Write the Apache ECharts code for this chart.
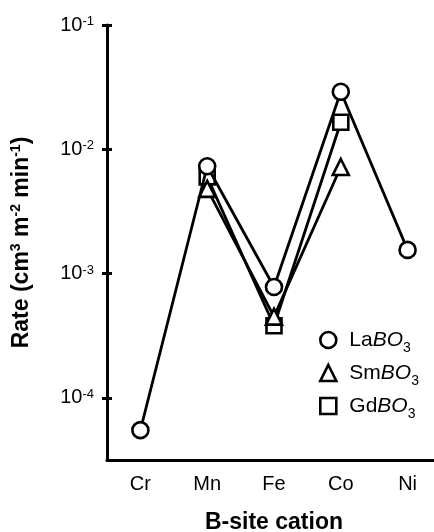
<!DOCTYPE html>
<html>
<head>
<meta charset="utf-8">
<script src="https://cdn.jsdelivr.net/npm/echarts@6/dist/echarts.min.js"></script>
<style>
  html, body { margin: 0; padding: 0; background: #fff; }
  #chart { width: 434px; height: 532px; }
</style>
</head>
<body>
<div id="chart"></div>
<script>
// B-site cations along the x axis
const categories = ['Cr', 'Mn', 'Fe', 'Co', 'Ni'];

// Rates in cm^3 m^-2 min^-1 (null where no sample)
const laBO3 = [5.5e-5, 7.3e-3, 7.8e-4, 2.9e-2, 1.55e-3];
const smBO3 = [null, 4.8e-3, 4.5e-4, 7.2e-3, null];
const gdBO3 = [null, 6.0e-3, 3.8e-4, 1.65e-2, null];

// Decade ticks on the log axis
const yTickValues = [1e-4, 1e-3, 1e-2, 1e-1];
const yMin = Math.pow(10, -4.5);
const yMax = 1e-1;

const FONT = "'Liberation Sans', Arial, sans-serif";
const INK = '#000';

const gridRect = { left: 107, top: 25, right: -7, bottom: 72, containLabel: false, outerBoundsMode: 'none' };

function powerLabel(v) {
  const e = Math.round(Math.log10(v));
  return '10{sup|' + e + '}';
}

function legendLabel(name) {
  return name.replace(/BO3$/, '{i|BO}{sub|3}');
}

const markerStyle = { color: '#fff', borderColor: INK, borderWidth: 2.6 };
const lineStyle = { color: INK, width: 2.8 };

function makeSeries(name, data, symbol, size, z) {
  return {
    name, type: 'line', data, symbol, symbolSize: size,
    xAxisIndex: 0, yAxisIndex: 0,
    itemStyle: markerStyle, lineStyle, z,
    emphasis: { disabled: true }, animation: false
  };
}

const chart = echarts.init(document.getElementById('chart'), null, { renderer: 'canvas' });
chart.setOption({
  backgroundColor: '#fff',
  animation: false,
  textStyle: { fontFamily: FONT, color: INK },
  grid: [
    Object.assign({}, gridRect),
    Object.assign({}, gridRect)
  ],
  xAxis: [
    {
      type: 'category', gridIndex: 0, data: categories, boundaryGap: true,
      axisLine: { lineStyle: { color: INK, width: 3 } },
      axisTick: { alignWithLabel: true, length: 5, lineStyle: { color: INK, width: 3 } },
      axisLabel: { color: INK, fontSize: 20, fontFamily: FONT, margin: 14 },
      name: 'B-site cation', nameLocation: 'middle', nameGap: 51,
      nameTextStyle: { color: INK, fontSize: 23, fontWeight: 'bold', fontFamily: FONT },
      splitLine: { show: false }
    },
    {
      // inner half of the crossing ticks
      type: 'category', gridIndex: 1, data: categories, boundaryGap: true,
      axisLine: { show: false },
      axisTick: { inside: true, alignWithLabel: true, length: 5, lineStyle: { color: INK, width: 3 } },
      axisLabel: { show: false },
      splitLine: { show: false }
    }
  ],
  yAxis: [
    {
      type: 'log', logBase: 10, gridIndex: 0, min: yMin, max: yMax,
      axisLine: { show: true, lineStyle: { color: INK, width: 3 } },
      axisTick: { show: true, length: 5, customValues: yTickValues, lineStyle: { color: INK, width: 3 } },
      axisLabel: {
        color: INK, fontSize: 20, fontFamily: FONT, margin: 13,
        customValues: yTickValues, formatter: powerLabel,
        rich: { sup: { fontSize: 13, fontFamily: FONT, color: INK, verticalAlign: 'top', lineHeight: 13 } }
      },
      name: 'Rate (cm{sup|3} m{sup|-2} min{sup|-1})', nameLocation: 'middle', nameGap: 72,
      nameTextStyle: {
        color: INK, fontSize: 23, fontWeight: 'bold', fontFamily: FONT, lineHeight: 26,
        rich: { sup: { fontSize: 14, fontWeight: 'bold', fontFamily: FONT, color: INK, verticalAlign: 'top', lineHeight: 14 } }
      },
      splitLine: { show: false }
    },
    {
      type: 'log', logBase: 10, gridIndex: 1, min: yMin, max: yMax,
      axisLine: { show: false },
      axisTick: { show: true, inside: true, length: 5, customValues: yTickValues, lineStyle: { color: INK, width: 3 } },
      axisLabel: { show: false },
      splitLine: { show: false }
    }
  ],
  legend: {
    orient: 'vertical', left: 314, top: 324, padding: 5,
    itemWidth: 16, itemHeight: 16, itemGap: 7,
    data: [
      { name: 'LaBO3', icon: 'circle' },
      { name: 'SmBO3', icon: 'triangle' },
      { name: 'GdBO3', icon: 'rect' }
    ],
    itemStyle: { color: '#fff', borderColor: INK, borderWidth: 2.6 },
    formatter: legendLabel,
    textStyle: {
      color: INK, fontSize: 21, fontFamily: FONT, lineHeight: 22, padding: [0, 0, 0, 8],
      rich: {
        i: { fontStyle: 'italic', fontSize: 21, fontFamily: FONT, color: INK },
        sub: { fontSize: 14, fontFamily: FONT, color: INK, verticalAlign: 'bottom', lineHeight: 14, padding: [0, 0, -4, 0] }
      }
    },
    selectedMode: false
  },
  series: [
    makeSeries('GdBO3', gdBO3, 'rect', 15, 2),
    makeSeries('SmBO3', smBO3, 'triangle', 16, 3),
    makeSeries('LaBO3', laBO3, 'circle', 16, 4)
  ]
});
</script>
</body>
</html>
